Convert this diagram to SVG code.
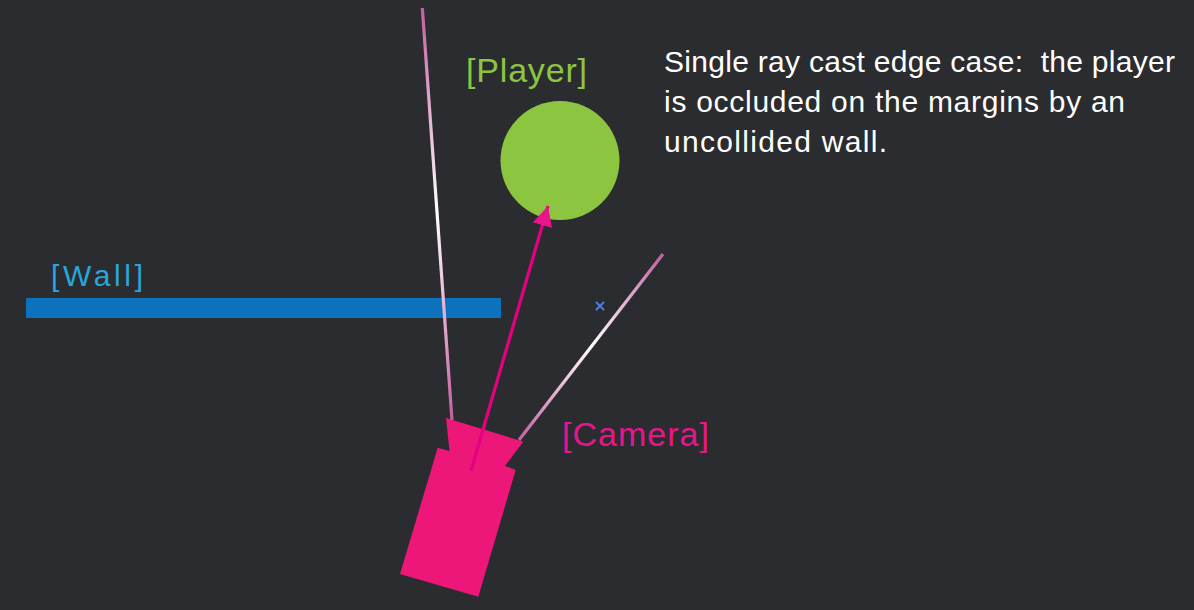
<svg xmlns="http://www.w3.org/2000/svg" width="1194" height="610" viewBox="0 0 1194 610">
  <defs>
    <linearGradient id="ray1" gradientUnits="userSpaceOnUse" x1="422" y1="8" x2="452" y2="418">
      <stop offset="0" stop-color="#c45fa0"/>
      <stop offset="0.5" stop-color="#ffffff"/>
      <stop offset="1" stop-color="#c45fa0"/>
    </linearGradient>
    <linearGradient id="ray2" gradientUnits="userSpaceOnUse" x1="663" y1="254" x2="519" y2="440">
      <stop offset="0" stop-color="#c45fa0"/>
      <stop offset="0.5" stop-color="#ffffff"/>
      <stop offset="1" stop-color="#c45fa0"/>
    </linearGradient>
    <marker id="arrow" markerUnits="userSpaceOnUse" markerWidth="24" markerHeight="24" refX="20" refY="10" orient="auto">
      <path d="M0,0 L20,10 L0,20 Z" fill="#e8168a"/>
    </marker>
    <style>
      .lbl { font-family: "Liberation Sans", Arial, sans-serif; }
      .ray { stroke-width: 3.2; stroke-linecap: butt; fill: none; }
    </style>
  </defs>
  <rect x="0" y="0" width="1194" height="610" fill="#2b2c30"/>

  <g id="wall">
    <rect x="26" y="298" width="475" height="20" fill="#0b72bb"/>
    <text class="lbl" x="51" y="286" font-size="30" fill="#29a6dc" textLength="92">[Wall]</text>
  </g>

  <g id="player">
    <circle cx="560" cy="160.5" r="59.5" fill="#8cc540"/>
    <text class="lbl" x="466" y="82" font-size="34" fill="#8cc540" textLength="121">[Player]</text>
  </g>

  <g id="camera">
    <polygon points="437.7,447.7 449.5,451 446,418 523.3,441.7 505,466 515.7,470 478.3,596.7 400,574" fill="#ed1679"/>
    <text class="lbl" x="562" y="446" font-size="34" fill="#e6168a" textLength="147">[Camera]</text>
  </g>

  <g id="marker-x">
    <path d="M596,302 L604,310 M604,302 L596,310" stroke="#4a7de8" stroke-width="2"/>
  </g>

  <g id="note">
    <text class="lbl" font-size="30" fill="#ffffff" xml:space="preserve" style="white-space:pre">
      <tspan x="664" y="72" textLength="511">Single ray cast edge case:  the player</tspan>
      <tspan x="664" y="112" textLength="461">is occluded on the margins by an</tspan>
      <tspan x="664" y="152" textLength="223">uncollided wall.</tspan>
    </text>
  </g>

  <g id="connectors">
    <line class="ray" x1="422.3" y1="8" x2="452" y2="420" stroke="url(#ray1)"/>
    <line class="ray" x1="663" y1="254" x2="519" y2="440" stroke="url(#ray2)"/>
    <line x1="471" y1="471" x2="548" y2="206" stroke="#e5007f" stroke-width="3.2" marker-end="url(#arrow)"/>
  </g>
</svg>
